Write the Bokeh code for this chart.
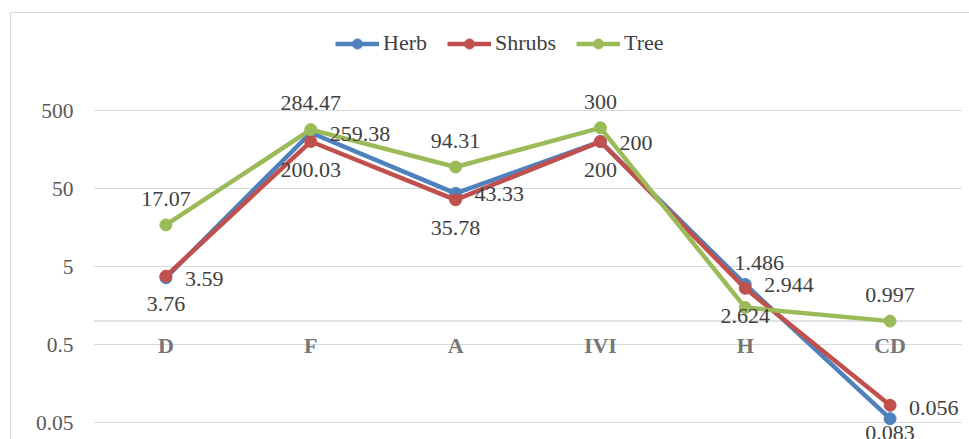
import math
from bokeh.plotting import figure
from bokeh.models import (ColumnDataSource, LabelSet, Span, FixedTicker, Legend,
                          LegendItem, Range1d, FactorRange)
from bokeh.embed import file_html
from bokeh.resources import INLINE

# ---- data ----
categories = ["D", "F", "A", "IVI", "H", "CD"]
herb = [3.59, 259.38, 43.33, 200, 2.944, 0.056]
shrubs = [3.76, 200.03, 35.78, 200, 2.624, 0.083]
tree = [17.07, 284.47, 94.31, 300, 1.486, 0.997]
y_ticks = [0.05, 0.5, 5, 50, 500]
y_tick_labels = ["0.05", "0.5", "5", "50", "500"]

# ---- style / layout ----
FONT = "Liberation Serif"
C_HERB = "#4F81BD"
C_SHRUB = "#C0504D"
C_TREE = "#9BBB59"
GRID = "#D9D9D9"
W, H = 969, 439
PX_PER_DECADE = 78          # vertical pixels per decade
TOP_PAD = 110               # pixels above the 500 gridline
BOTTOM_PAD = 17             # pixels below the 0.05 gridline
herb_label_dy = [-1, -1, -1, -1, -1, 11]
tree_label_dx = [0, 0, 0, 0, 14, 0]
tree_label_dy = [26, 27, 26, 26, 45, 26]

y_top = y_ticks[-1] * 10 ** (TOP_PAD / PX_PER_DECADE)
y_bottom = y_ticks[0] * 10 ** (-BOTTOM_PAD / PX_PER_DECADE)

src = ColumnDataSource(dict(
    cat=categories, herb=herb, shrubs=shrubs, tree=tree,
    herb_lbl=[f"{v:g}" for v in herb],
    shrubs_lbl=[f"{v:g}" for v in shrubs],
    tree_lbl=[f"{v:g}" for v in tree],
    herb_dy=herb_label_dy, tree_dx=tree_label_dx, tree_dy=tree_label_dy,
    one=[1] * len(categories),
))

p = figure(width=W, height=H, x_range=FactorRange(*categories),
           y_range=Range1d(y_bottom, y_top), y_axis_type="log",
           output_backend="svg", toolbar_location=None,
           min_border_left=93, min_border_right=7,
           min_border_top=0, min_border_bottom=0)
p.outline_line_color = None
# transparent canvas so the chart-area border drawn by CSS shows through
p.background_fill_color = None
p.border_fill_color = None
p.styles = {
    "background": (
        "linear-gradient(#D9D9D9, #D9D9D9) 10px 12px / 1px 100% no-repeat, "
        "linear-gradient(#D9D9D9, #D9D9D9) 10px 12px / 100% 1px no-repeat, "
        "#FFFFFF"
    )
}

p.xaxis.visible = False
p.xgrid.visible = False

p.yaxis.ticker = FixedTicker(ticks=y_ticks)
p.ygrid.ticker = FixedTicker(ticks=y_ticks)
p.yaxis.major_label_overrides = dict(zip(y_ticks, y_tick_labels))
p.yaxis.axis_line_color = None
p.yaxis.major_tick_line_color = None
p.yaxis.minor_tick_line_color = None
p.yaxis.major_label_standoff = 14
p.yaxis.major_label_text_font = FONT
p.yaxis.major_label_text_font_size = "21.5px"
p.yaxis.major_label_text_color = "#595959"
p.ygrid.grid_line_color = GRID
p.ygrid.grid_line_width = 1

# horizontal category axis line crossing at 1
p.add_layout(Span(location=1, dimension="width", line_color=GRID,
                  line_width=1.5, level="underlay"))

items = []
for name, col in [("Herb", C_HERB), ("Shrubs", C_SHRUB), ("Tree", C_TREE)]:
    key = name.lower()
    ln = p.line("cat", key, source=src, line_color=col, line_width=4.5)
    pt = p.scatter("cat", key, source=src, size=12, fill_color=col,
                   line_color=col)
    items.append(LegendItem(label=name, renderers=[ln, pt]))

common = dict(source=src, text_font=FONT, text_font_size="22px",
              text_color="#404040", text_baseline="middle")
p.add_layout(LabelSet(x="cat", y="tree", text="tree_lbl", text_align="center",
                      x_offset="tree_dx", y_offset="tree_dy", **common))
p.add_layout(LabelSet(x="cat", y="herb", text="herb_lbl", text_align="left",
                      x_offset=19, y_offset="herb_dy", **common))
p.add_layout(LabelSet(x="cat", y="shrubs", text="shrubs_lbl",
                      text_align="center", y_offset=-28, **common))

# category labels next to the axis line at 1
p.add_layout(LabelSet(x="cat", y="one", text="cat", source=src,
                      text_align="center", text_baseline="middle",
                      y_offset=-24, text_font=FONT, text_font_size="22px",
                      text_font_style="bold", text_color="#767676"))

legend = Legend(items=items, orientation="horizontal", location=(242, 383),
                label_text_font=FONT, label_text_font_size="22px",
                label_text_color="#404040", glyph_width=44, glyph_height=25,
                label_standoff=4, spacing=20, padding=0, margin=0,
                border_line_color=None, background_fill_alpha=0)
p.add_layout(legend)

open("out.html", "w").write(file_html(p, INLINE))
